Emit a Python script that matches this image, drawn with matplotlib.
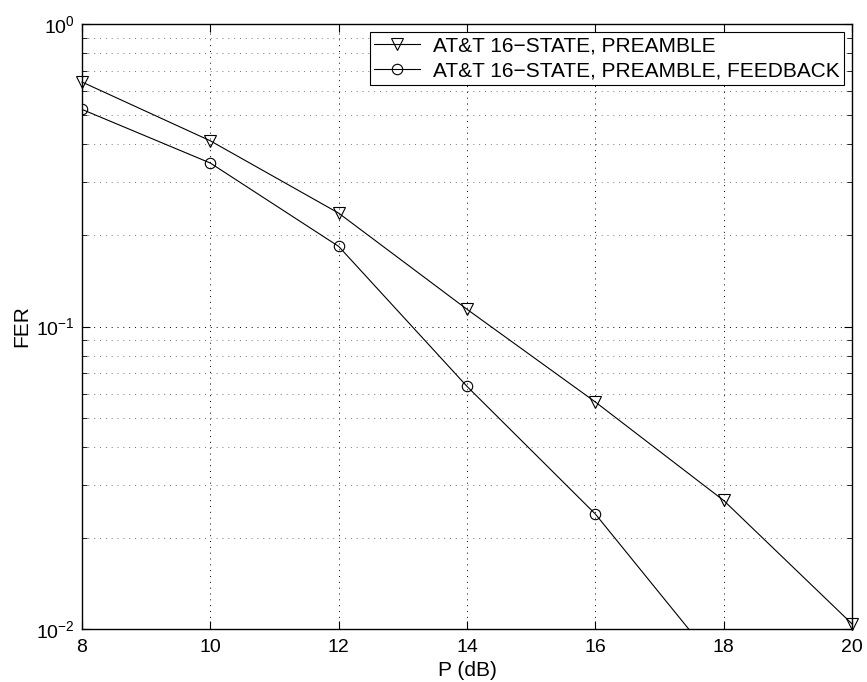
import numpy as np
import matplotlib
matplotlib.use('Agg')
import matplotlib.pyplot as plt
from matplotlib.ticker import LogLocator, FixedLocator

plt.rcParams['font.family'] = ['Liberation Sans', 'DejaVu Sans']
plt.rcParams['mathtext.fontset'] = 'custom'
plt.rcParams['mathtext.rm'] = 'Liberation Sans'
plt.rcParams['mathtext.it'] = 'Liberation Sans'

# ---- data ----
p_db = [8, 10, 12, 14, 16, 18, 20]
fer_preamble = [0.643, 0.411, 0.237, 0.114, 0.0563, 0.0266, 0.0104]
p_db_fb = [8, 10, 12, 14, 16, 18]
fer_feedback = [0.522, 0.347, 0.184, 0.0634, 0.024, 0.0072]

labels = ['AT&T 16\u2212STATE, PREAMBLE', 'AT&T 16\u2212STATE, PREAMBLE, FEEDBACK']
x_ticks = [8, 10, 12, 14, 16, 18, 20]

fig = plt.figure(figsize=(8.67, 6.82), dpi=100)
ax = fig.add_axes([0.0946, 0.0777, 0.8881, 0.8871])

ax.plot(p_db, fer_preamble, color='black', linewidth=0.8, marker='v',
        markersize=8.5, markerfacecolor='none', markeredgewidth=0.8,
        label=labels[0], clip_on=False, zorder=3)
ax.plot(p_db_fb, fer_feedback, color='black', linewidth=0.8, marker='o',
        markersize=7.5, markerfacecolor='none', markeredgewidth=0.8,
        label=labels[1], zorder=3)

ax.set_yscale('log')
ax.set_xlim(8, 20)
ax.set_ylim(1e-2, 1e0)
ax.xaxis.set_major_locator(FixedLocator(x_ticks))
ax.yaxis.set_major_locator(LogLocator(base=10, numticks=10))
ax.yaxis.set_minor_locator(LogLocator(base=10, subs=np.arange(2, 10), numticks=20))

ax.grid(True, which='major', linestyle=(0, (1, 5)), color='black', linewidth=0.7)
ax.grid(True, which='minor', axis='y', linestyle=(0, (1, 5)), color='#777777', linewidth=0.7)

ax.tick_params(which='both', direction='in', top=True, right=True,
               labelsize=14, colors='black')
ax.tick_params(which='major', length=6, width=0.8)
ax.tick_params(which='minor', length=3.5, width=0.6)
ax.tick_params(axis='x', pad=7)
ax.tick_params(axis='y', pad=5)
for s in ax.spines.values():
    s.set_linewidth(1.0)

ax.set_xlabel('P (dB)', fontsize=15, labelpad=4)
ax.set_ylabel('FER', fontsize=15, labelpad=4)

leg = ax.legend(loc='upper right', fontsize=15, frameon=True, fancybox=False,
                edgecolor='black', framealpha=1, borderpad=0.2,
                labelspacing=0.3, handlelength=2.2, handletextpad=0.6,
                borderaxespad=0.4)
leg.get_frame().set_linewidth(0.8)

fig.savefig('out.png', dpi=100, facecolor='white')
